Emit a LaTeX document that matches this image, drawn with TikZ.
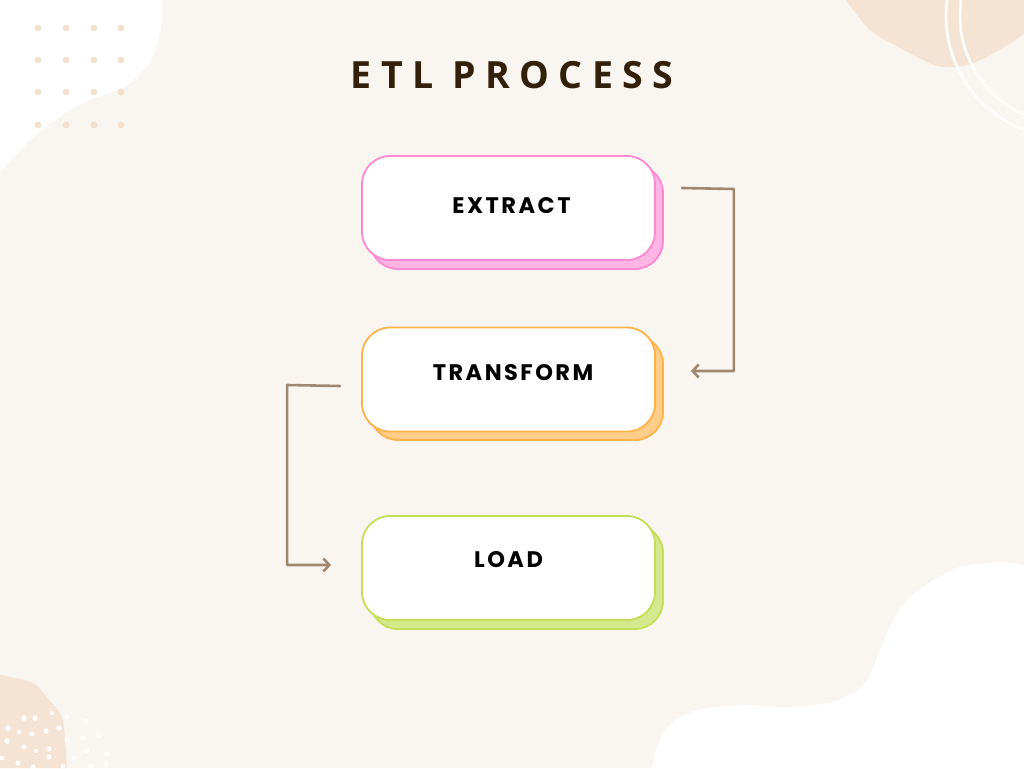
\documentclass[tikz,border=0pt]{standalone}
\usepackage{fontspec}
\setmainfont{Open Sans}
\newfontfamily\titlefont[LetterSpace=25]{Open Sans}
\newfontfamily\labelfont[LetterSpace=11]{Poppins}
\usetikzlibrary{arrows.meta,calc}
\definecolor{bgc}{HTML}{F9F5F0}
\definecolor{blobc}{HTML}{F5E4D4}
\definecolor{dotc}{HTML}{F3E1CE}
\definecolor{arrowc}{HTML}{A08870}
\definecolor{titlec}{HTML}{33200A}
\definecolor{pinkd}{HTML}{FF88D2}
\definecolor{pinkf}{HTML}{FFB5E3}
\definecolor{orad}{HTML}{FFB347}
\definecolor{oraf}{HTML}{FFCD8A}
\definecolor{grnd}{HTML}{C3E055}
\definecolor{grnf}{HTML}{D6E88E}
\tikzset{
  front/.style={draw=#1, line width=1.8pt, fill=white, rounded corners=28pt,
    minimum width=293pt, minimum height=104pt, inner sep=0pt},
  back/.style 2 args={draw=#1, fill=#2, line width=1.8pt, rounded corners=28pt,
    minimum width=293pt, minimum height=104pt, inner sep=0pt},
  lbl/.style={anchor=base, inner sep=0pt, font=\labelfont\bfseries\fontsize{22.5}{24}\selectfont, text=black},
  conn/.style={draw=arrowc, line width=2.6pt, line cap=round, line join=round,
    -{Straight Barb[length=6pt,width=13pt,line width=2.6pt]}},
}
\begin{document}
\begin{tikzpicture}[x=1pt,y=-1pt]
\useasboundingbox (0,0) rectangle (1024,768);
\clip (0,0) rectangle (1024,768);
\fill[bgc] (0,0) rectangle (1024,768);
% top-left white blob
\fill[white] (0,0) -- plot[smooth] coordinates {(162,0) (161,30) (150,62) (125,87) (90,100) (55,120) (28,142) (0,172)} -- cycle;
% dots grid
\foreach \x in {38,66,94,121}
  \foreach \y in {28,60,92,125}
    \fill[dotc] (\x,\y) circle (3.4);
% top-right blob
\fill[blobc] (846,0) -- plot[smooth] coordinates {(846,0) (870,30) (904,50) (934,65) (951,67) (974,63) (1011,43) (1024,33)} -- (1024,0) -- cycle;
\draw[white, line width=2.6pt] (1068,16) circle (122);
\draw[white, line width=2.6pt] (1068,16) circle (108);
% bottom-left blob
\fill[blobc] (0,675) -- plot[smooth] coordinates {(0,675) (33,683) (50,701) (62,717) (65,740) (67,768)} -- (0,768) -- cycle;
\foreach \p/\r in {{(24,718)}/2.8, {(35,718)}/2.8, {(52,713)}/2.2, {(67,717)}/2.8, {(86,721)}/2.6,
  {(8,728)}/2.8, {(19,732)}/2.2, {(32,734)}/2.6, {(46,731)}/2.6, {(59,728)}/2.8,
  {(7,741)}/2.8, {(24,747)}/2.6, {(36,751)}/2.2, {(49,749)}/2.6, {(49,757)}/2.6,
  {(67,740)}/2.8, {(83,738)}/2.6, {(99,735)}/2.6, {(87,751)}/2.6, {(74,758)}/2.6,
  {(107,754)}/2.6, {(2,758)}/2.4, {(18,763)}/2.6, {(33,767)}/2.6, {(63,766)}/2.4,
  {(91,766)}/2.6, {(106,764)}/2.6}
  \fill[white] \p circle (\r);
% bottom-right white blob
\fill[white] (1024,565) -- plot[smooth] coordinates {(1024,565) (1000,562) (960,567) (933,580) (907,600) (893,620) (880,650) (867,680) (853,693) (827,703) (787,707) (747,705) (707,708) (680,717) (663,733) (654,757) (652,768)} -- (1024,768) -- cycle;
% title
\node[anchor=base, inner sep=0pt, text=titlec, font=\titlefont\bfseries\fontsize{37.5}{40}\selectfont] (title) at (512,88.5) {ETL PROCESS};
% boxes
\node[back={pinkd}{pinkf}] (exb) at (516.5,217) {};
\node[front=pinkd] (ex) at (508.5,208) {};
\node[back={orad}{oraf}] (trb) at (516.5,388) {};
\node[front=orad] (tr) at (508.5,379.5) {};
\node[back={grnd}{grnf}] (ldb) at (516.5,577) {};
\node[front=grnd] (ld) at (508.5,568) {};
\node[lbl] (exl) at (511.5,213) {EXTRACT};
\node[lbl] (trl) at (513,380) {TRANSFORM};
\node[lbl] (ldl) at (508.5,567) {LOAD};
% connectors
\draw[conn] ([xshift=26pt,yshift=20pt]ex.east) -- ([xshift=78pt,yshift=19pt]ex.east) |- ([xshift=35pt,yshift=8.5pt]tr.east);
\draw[conn] ([xshift=-21pt,yshift=-6.5pt]tr.west) -- ([xshift=-74pt,yshift=-5.5pt]tr.west) |- ([xshift=-30pt,yshift=3pt]ld.west);
\end{tikzpicture}
\end{document}
